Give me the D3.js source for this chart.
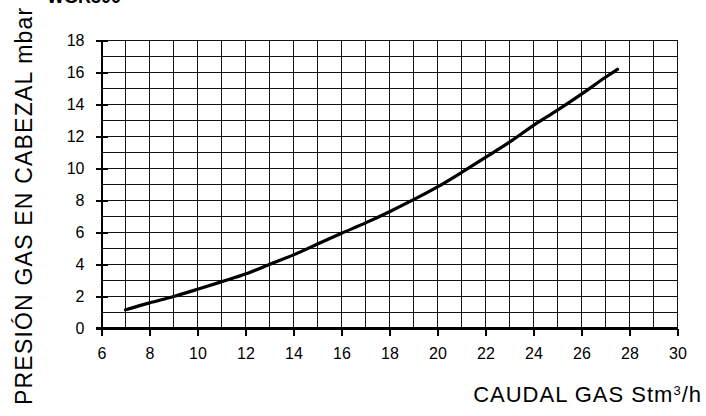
<!DOCTYPE html>
<html><head><meta charset="utf-8">
<script src="https://cdn.jsdelivr.net/npm/d3@7"></script>
<style>body{margin:0;background:#fff}svg{display:block}text{font-family:"Liberation Sans",Arial,sans-serif;fill:#000}</style>
</head><body>
<script>
const flow = [7,8,9,10,11,12,13,14,15,16,17,18,19,20,21,22,23,24,25,26,27,27.5];
const pressure = [1.17,1.6,2.0,2.45,2.92,3.4,4.0,4.6,5.28,5.95,6.6,7.3,8.05,8.85,9.75,10.7,11.65,12.7,13.65,14.65,15.7,16.2];
const xTicks = [6,8,10,12,14,16,18,20,22,24,26,28,30];
const yTicks = [0,2,4,6,8,10,12,14,16,18];

const W=706,H=416;
const svg=d3.select("body").append("svg").attr("width",W).attr("height",H);
const x=d3.scaleLinear().domain([6,30]).range([101.5,677.5]);
const y=d3.scaleLinear().domain([0,18]).range([328.5,40.5]);

// grid
const g=svg.append("g").attr("shape-rendering","crispEdges");
g.selectAll("line.v").data(d3.range(7,31)).join("line")
 .attr("x1",d=>x(d)).attr("x2",d=>x(d)).attr("y1",y(18)).attr("y2",y(0))
 .attr("stroke","#111").attr("stroke-width",d=>d===30?1.5:1);
g.selectAll("line.h").data(d3.range(1,19)).join("line")
 .attr("x1",x(6)).attr("x2",x(30)).attr("y1",d=>y(d)).attr("y2",d=>y(d))
 .attr("stroke","#111").attr("stroke-width",1);

// axes
const xa=svg.append("g").attr("transform",`translate(0,${y(0)})`)
 .call(d3.axisBottom(x).tickValues(xTicks).tickSize(7).tickPadding(12));
xa.select(".domain").attr("stroke-width",2.5).attr("d",`M${x(6)-6},0H${x(30)}`);
xa.selectAll(".tick line").attr("stroke-width",1.5);
xa.selectAll("text").attr("font-size",16);
const ya=svg.append("g").attr("transform",`translate(${x(6)},0)`)
 .call(d3.axisLeft(y).tickValues(yTicks).tickSize(6).tickPadding(11));
ya.select(".domain").attr("stroke-width",2).attr("d",`M0,${y(0)+6}V${y(18)}`);
ya.selectAll(".tick line").attr("x2",6).attr("x1",-6).attr("stroke-width",1.5);
ya.selectAll("text").attr("font-size",16);
svg.selectAll(".domain,.tick line").attr("shape-rendering","crispEdges");

// curve
svg.append("path").datum(flow.map((f,i)=>[f,pressure[i]]))
 .attr("fill","none").attr("stroke","#000").attr("stroke-width",3.2)
 .attr("stroke-linecap","round").attr("stroke-linejoin","round")
 .attr("d",d3.line().x(d=>x(d[0])).y(d=>y(d[1])).curve(d3.curveMonotoneX));

// titles
const xt=svg.append("text").attr("x",702).attr("y",402).attr("text-anchor","end")
 .attr("font-size",22).attr("letter-spacing",1);
xt.append("tspan").text("CAUDAL GAS Stm");
xt.append("tspan").attr("font-size",13).attr("dy",-7).text("3");
xt.append("tspan").attr("dy",7).text("/h");

svg.append("text").attr("transform","translate(32,405) rotate(-90)")
 .attr("font-size",23).attr("letter-spacing",1.2)
 .text("PRESIÓN GAS EN CABEZAL mbar");

svg.append("text").attr("x",47).attr("y",3).attr("font-size",18).attr("font-weight","bold").text("WGR300");
</script>
</body></html>
